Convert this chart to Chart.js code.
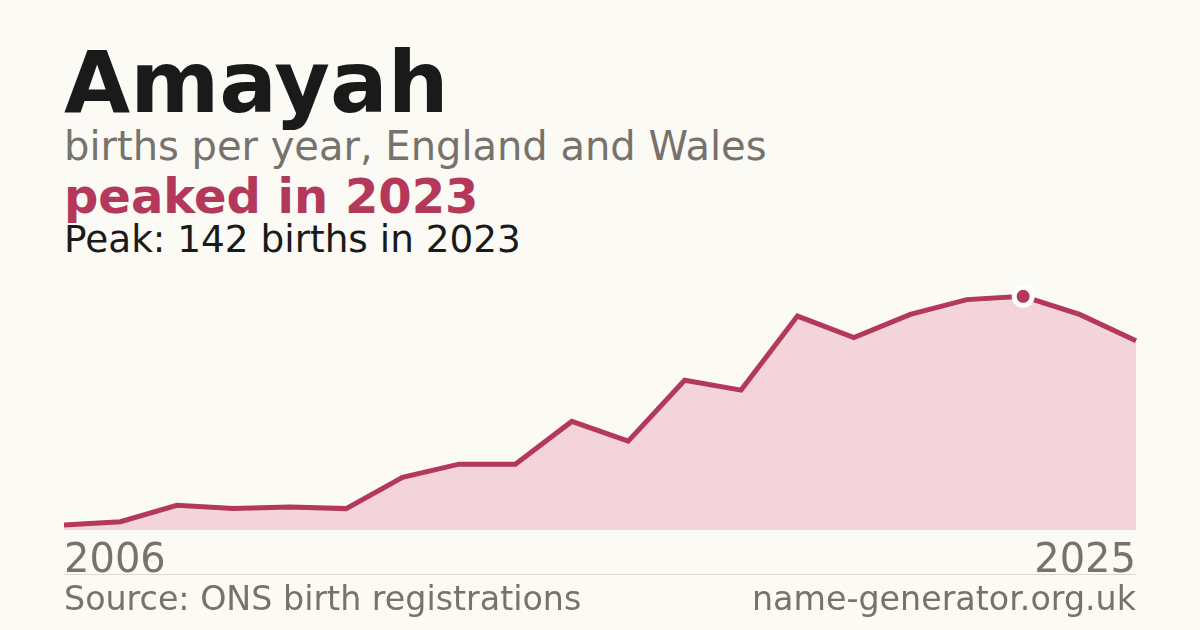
<!DOCTYPE html>
<html lang="en">
<head>
    <meta charset="UTF-8">
    <title>Amayah</title>
    <style>
        body {
            margin: 0;
            width: 1200px;
            height: 630px;
            background-color: #fbfaf5;
            font-family: "DejaVu Sans", sans-serif;
            position: relative;
            overflow: hidden;
        }
        .txt {
            position: absolute;
            left: 64px;
            line-height: 1;
            white-space: nowrap;
        }
        #title { top: 40px; font-size: 85.5px; font-weight: bold; color: #1a1a1a; }
        #subtitle { top: 126px; font-size: 40px; color: #77726b; }
        #headline { top: 172px; font-size: 48px; font-weight: bold; color: #b3385a; }
        #peak { top: 221px; font-size: 37.4px; color: #1a1a1a; }
        #source { top: 582px; font-size: 33.3px; color: #77726b; }
        #site { top: 582px; left: auto; right: 64px; font-size: 33.3px; color: #77726b; }
        #rule {
            position: absolute;
            left: 64px;
            top: 574px;
            width: 1072px;
            height: 1px;
            background: #e0dbd2;
        }
        /* canvas is 8px wider each side: the x scale reserves its tick padding there */
        #chart-box {
            position: absolute;
            left: 56px;
            top: 270px;
            width: 1088px;
            height: 310px;
        }
    </style>
    <script src="https://cdn.jsdelivr.net/npm/chart.js"></script>
</head>
<body>
    <div id="title" class="txt">Amayah</div>
    <div id="subtitle" class="txt">births per year, England and Wales</div>
    <div id="headline" class="txt">peaked in 2023</div>
    <div id="peak" class="txt">Peak: 142 births in 2023</div>
    <div id="chart-box"><canvas id="births-chart"></canvas></div>
    <div id="rule"></div>
    <div id="source" class="txt">Source: ONS birth registrations</div>
    <div id="site" class="txt">name-generator.org.uk</div>
    <script>
        const years = ['2006', '2007', '2008', '2009', '2010', '2011', '2012', '2013', '2014', '2015',
                       '2016', '2017', '2018', '2019', '2020', '2021', '2022', '2023', '2024', '2025'];
        const births = [3, 5, 15, 13, 14, 13, 32, 40, 40, 66,
                        54, 91, 85, 130, 117, 131, 140, 142, 131, 115];
        const peakIndex = 17;

        const accent = '#b3385a';

        document.addEventListener('DOMContentLoaded', () => {
            const ctx = document.getElementById('births-chart').getContext('2d');
            new Chart(ctx, {
                type: 'line',
                data: {
                    labels: years,
                    datasets: [{
                        data: births,
                        borderColor: accent,
                        borderWidth: 5,
                        backgroundColor: '#f2d4da',
                        fill: 'origin',
                        tension: 0,
                        pointRadius: births.map((v, i) => i === peakIndex ? 9 : 0),
                        pointBackgroundColor: accent,
                        pointBorderColor: '#ffffff',
                        pointBorderWidth: 5,
                        pointHoverRadius: 0,
                    }],
                },
                options: {
                    responsive: true,
                    maintainAspectRatio: false,
                    animation: false,
                    events: [],
                    layout: { padding: 0, autoPadding: false },
                    plugins: {
                        legend: { display: false },
                        tooltip: { enabled: false },
                    },
                    scales: {
                        x: {
                            offset: false,
                            grid: { display: false, drawTicks: false },
                            border: { display: false },
                            afterFit: (scale) => { scale.height = 50; },
                            ticks: {
                                autoSkip: false,
                                maxRotation: 0,
                                align: 'inner',
                                padding: 8,
                                color: '#77726b',
                                font: { family: 'DejaVu Sans', size: 40 },
                                callback: (val, i) => (i === 0 || i === years.length - 1) ? years[i] : '',
                            },
                        },
                        y: {
                            display: false,
                            min: 0,
                            max: 158,
                        },
                    },
                },
            });
        });
    </script>
</body>
</html>
